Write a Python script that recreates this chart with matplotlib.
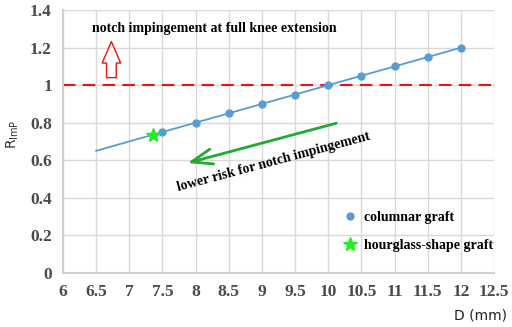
import matplotlib
matplotlib.use("Agg")
import matplotlib.pyplot as plt

# data
line_d = [6.5, 12.0]
line_r = [0.65, 1.2]
columnar_d = [7.5, 8.0, 8.5, 9.0, 9.5, 10.0, 10.5, 11.0, 11.5, 12.0]
columnar_r = [0.75, 0.80, 0.85, 0.90, 0.95, 1.00, 1.05, 1.10, 1.15, 1.20]
hourglass_d = [7.36]
hourglass_r = [0.735]
threshold = 1.0

x_ticks = [6, 6.5, 7, 7.5, 8, 8.5, 9, 9.5, 10, 10.5, 11, 11.5, 12, 12.5]
x_labels = ["6", "6.5", "7", "7.5", "8", "8.5", "9", "9.5", "10", "10.5", "11", "11.5", "12", "12.5"]
y_ticks = [0, 0.2, 0.4, 0.6, 0.8, 1.0, 1.2, 1.4]
y_labels = ["0", "0.2", "0.4", "0.6", "0.8", "1", "1.2", "1.4"]

BLUE = "#5b9bd5"
SERIF = "Liberation Serif"

plt.rcParams["mathtext.default"] = "regular"
fig = plt.figure(figsize=(5.12, 3.27), dpi=100)
ax = fig.add_axes([0.123, 0.166, 0.842, 0.803])

ax.plot(line_d, line_r, color=BLUE, lw=1.3, zorder=3)
ax.plot(columnar_d, columnar_r, "o", color=BLUE, ms=5, zorder=4, label="columnar graft")
ax.plot(hourglass_d, hourglass_r, "*", color="#22ee22", ms=10, zorder=5, label="hourglass-shape graft")
ax.axhline(threshold, color="#ee1111", lw=1.5, ls=(0, (6, 3.5)), zorder=2)

ax.set_xlim(6, 12.5)
ax.set_ylim(0, 1.4)
ax.set_xticks(x_ticks)
ax.set_xticklabels(x_labels)
ax.set_yticks(y_ticks)
ax.set_yticklabels(y_labels)
ax.grid(True, color="#d9d9d9", lw=1.0)
ax.set_axisbelow(True)
for s in ax.spines.values():
    s.set_visible(False)
for side in ["left", "bottom"]:
    ax.spines[side].set_visible(True)
    ax.spines[side].set_color("#d0d0d0")
    ax.spines[side].set_linewidth(1.5)
ax.tick_params(length=0, pad=8)
for lab in ax.get_xticklabels() + ax.get_yticklabels():
    lab.set_fontfamily(SERIF)
    lab.set_fontweight("bold")
    lab.set_fontsize(12.5)
    lab.set_color("#4a4a4a")

fig.text(0.025, 0.59, r"R$_{ImP}$", rotation=90, ha="center", va="center",
         fontsize=10, color="#333333")
fig.text(0.938, 0.035, "D (mm)", ha="center", va="center", fontsize=10, color="#222222")

ax.text(6.44, 1.30, "notch impingement at full knee extension", fontfamily=SERIF,
        fontweight="bold", fontsize=10, va="center", ha="left")
ax.annotate("", xy=(6.73, 1.232), xytext=(6.73, 1.04),
            arrowprops=dict(arrowstyle="simple,head_width=0.95,head_length=1.1,tail_width=0.5",
                            fc="white", ec="#ee1111", lw=1.0, shrinkA=0, shrinkB=0,
                            mutation_scale=14))
ax.annotate("", xy=(7.88, 0.585), xytext=(10.12, 0.797),
            arrowprops=dict(arrowstyle="->,head_width=0.55,head_length=1.5",
                            color="#22aa33", lw=2, shrinkA=0, shrinkB=0))
ax.text(9.18, 0.59, "lower risk for notch impingement", fontfamily=SERIF,
        fontweight="bold", fontsize=10, rotation=15, ha="center", va="center",
        rotation_mode="anchor")

leg = ax.legend(loc="lower right", bbox_to_anchor=(1.027, 0.03), frameon=False,
                prop=dict(family=SERIF, weight="bold", size=10),
                handletextpad=0.3, labelspacing=1.1, handlelength=1.5)

fig.savefig("out.png", dpi=100)
